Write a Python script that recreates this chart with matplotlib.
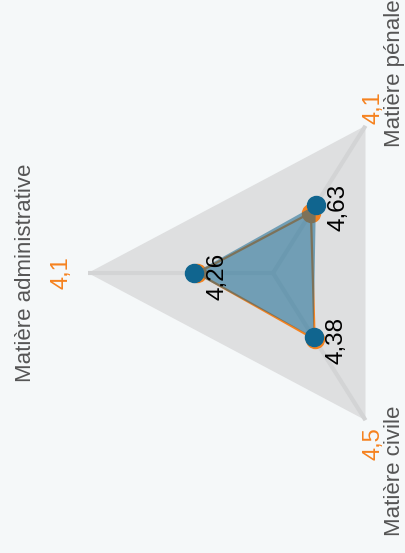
import numpy as np
import matplotlib
matplotlib.use("Agg")
import matplotlib.pyplot as plt

# ---- data ----
categories = ["Matière administrative", "Matière pénale", "Matière civile"]
series_blue = [4.26, 4.63, 4.38]
series_orange = [4.1, 4.1, 4.5]
blue_labels = ["4,26", "4,63", "4,38"]
orange_labels = ["4,1", "4,1", "4,5"]
r_max = 10

BG = "#f5f8f9"
GRID_FILL = "#dedfe0"
SPOKE = "#d3d4d5"
BLUE = "#10658f"
ORANGE = "#f5821f"
LABEL = "#555555"

plt.rcParams["font.family"] = ["Liberation Sans", "DejaVu Sans"]

W, H = 406, 553
fig = plt.figure(figsize=(W / 100, H / 100), dpi=100, facecolor=BG)
cx, cy = 273, 273
rx, ry = 185, 170
ax = fig.add_axes([(cx - rx) / W, (H - cy - ry) / H, 2 * rx / W, 2 * ry / H],
                  projection="polar")
ax.set_aspect("auto")
ax.set_facecolor("none")
ax.set_theta_offset(np.pi)
ax.set_theta_direction(-1)
ax.set_ylim(0, r_max)
ax.grid(False)
ax.spines["polar"].set_visible(False)
ax.set_xticks([])
ax.set_yticks([])

n = len(categories)
theta = np.arange(n) * 2 * np.pi / n
th_c = np.append(theta, theta[0])

# background polygon and spokes
ax.fill(th_c, [r_max] * (n + 1), color=GRID_FILL, zorder=1, lw=0)
for t in theta:
    ax.plot([t, t], [0, r_max], color=SPOKE, lw=3, zorder=2, solid_capstyle="round")

# orange series
ob = np.append(series_orange, series_orange[0])
ax.plot(th_c, ob, color=ORANGE, lw=1.6, zorder=3)
ax.plot(theta, series_orange, "o", color=ORANGE, ms=13, zorder=3)

# blue series
bb = np.append(series_blue, series_blue[0])
ax.fill(th_c, bb, color=BLUE, alpha=0.53, lw=0, zorder=4)
ax.plot(theta, series_blue, "o", color=BLUE, ms=13, zorder=5)

fs = 16
k = 0.72  # px -> pt
# value labels
for t, v, lab in zip(theta, series_blue, blue_labels):
    ax.annotate(lab, xy=(t, v), xytext=(23 * k, -3 * k), textcoords="offset points",
                rotation=90, ha="center", va="center", fontsize=17.5, color="black",
                zorder=6)

# category and orange labels
cat_off = [(-63, 0), (29, 53), (29, -51)]
org_off = [(-27, 0), (8, 18), (8, -23)]
for i, t in enumerate(theta):
    ax.annotate(categories[i], xy=(t, r_max), xytext=(cat_off[i][0] * k, cat_off[i][1] * k),
                textcoords="offset points", rotation=90, ha="center", va="center",
                fontsize=fs, color=LABEL, annotation_clip=False)
    ax.annotate(orange_labels[i], xy=(t, r_max), xytext=(org_off[i][0] * k, org_off[i][1] * k),
                textcoords="offset points", rotation=90, ha="center", va="center",
                fontsize=17, color=ORANGE, annotation_clip=False)

fig.savefig("out.png", dpi=100, facecolor=BG)
